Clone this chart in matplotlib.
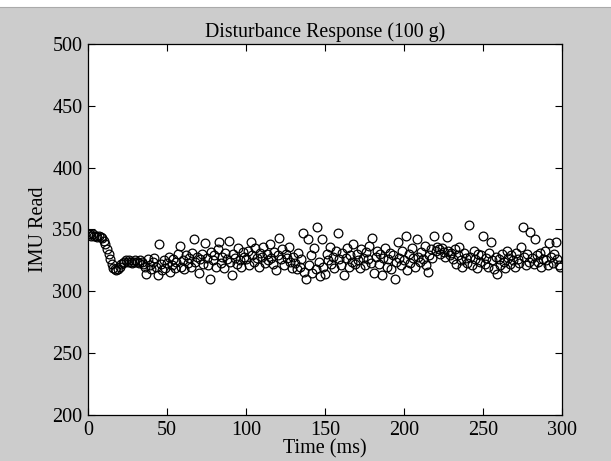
import numpy as np
import matplotlib
matplotlib.use("Agg")
import matplotlib.pyplot as plt

# IMU readings, one sample per ms
imu_read = [
    346, 346, 345, 346, 345, 345, 344, 345, 344, 343,
    341, 338, 334, 330, 326, 322, 319, 318, 317, 318,
    320, 322, 323, 324, 325, 324, 325, 324, 323, 324,
    325, 324, 323, 325, 324, 322, 320, 314, 326, 321,
    318, 324, 327, 320, 313, 338, 322, 317, 325, 319,
    323, 328, 316, 321, 326, 319, 324, 330, 337, 320,
    325, 318, 329, 323, 327, 320, 331, 342, 324, 328,
    315, 326, 330, 322, 339, 327, 321, 310, 332, 325,
    329, 320, 334, 340, 323, 328, 319, 331, 326, 341,
    324, 313, 330, 327, 322, 335, 325, 320, 332, 328,
    326, 333, 321, 340, 329, 324, 335, 327, 320, 331,
    328, 336, 323, 330, 325, 338, 327, 322, 332, 317,
    329, 343, 326, 334, 321, 330, 327, 336, 324, 319,
    328, 323, 318, 331, 320, 326, 347, 316, 310, 342,
    321, 329, 315, 335, 318, 352, 324, 312, 342, 320,
    314, 330, 325, 336, 322, 328, 319, 333, 347, 326,
    321, 331, 313, 327, 335, 320, 329, 324, 338, 322,
    330, 325, 319, 334, 327, 321, 332, 326, 337, 323,
    343, 315, 328, 333, 322, 330, 313, 327, 335, 320,
    326, 331, 318, 329, 310, 324, 340, 327, 321, 333,
    325, 345, 317, 330, 323, 335, 327, 320, 342, 328,
    324, 332, 326, 337, 321, 316, 329, 334, 327, 345,
    333, 336, 334, 330, 335, 332, 328, 344, 333, 329,
    331, 326, 334, 322, 329, 336, 325, 320, 331, 327,
    323, 354, 328, 321, 333, 326, 319, 330, 324, 329,
    345, 322, 327, 320, 331, 340, 325, 318, 328, 314,
    326, 321, 330, 324, 319, 333, 327, 322, 329, 325,
    320, 331, 326, 323, 336, 352, 328, 321, 330, 324,
    348, 327, 322, 342, 329, 324, 331, 320, 326, 333,
    325, 321, 339, 328, 323, 330, 340, 326, 321, 320,
]
time_ms = np.arange(len(imu_read))

x_ticks = [0, 50, 100, 150, 200, 250, 300]
y_ticks = [200, 250, 300, 350, 400, 450, 500]

plt.rcParams['font.family'] = ['Liberation Serif', 'DejaVu Serif']

fig = plt.figure(figsize=(6.11, 4.61), dpi=100, facecolor='#cccccc')
# white strip along the top edge, like the scanned original
fig.patches.append(plt.Rectangle((0, 1 - 7/461), 1, 7/461, transform=fig.transFigure,
                                 facecolor='white', edgecolor='none'))
fig.add_artist(plt.Line2D([0, 1], [1 - 7.5/461, 1 - 7.5/461], transform=fig.transFigure,
                          color='#aaaaaa', lw=0.8))

ax = fig.add_axes([88/611, 1 - 415/461, 474/611, 371/461])
ax.set_facecolor('white')
ax.plot(time_ms, imu_read, linestyle='none', marker='o', markersize=6.3,
        markerfacecolor='none', markeredgecolor='black', markeredgewidth=0.9)

ax.set_xlim(0, 300)
ax.set_ylim(200, 500)
ax.set_xticks(x_ticks)
ax.set_yticks(y_ticks)
ax.tick_params(direction='in', top=True, right=True, length=5, width=0.8,
               labelsize=14.5)
ax.tick_params(axis='x', pad=4)
ax.tick_params(axis='y', pad=4)
for s in ax.spines.values():
    s.set_linewidth(0.9)

ax.set_title('Disturbance Response (100 g)', fontsize=14.3, pad=5)
ax.set_xlabel('Time (ms)', fontsize=14.5, labelpad=0)
ax.set_ylabel('IMU Read', fontsize=14.5, labelpad=3)

fig.savefig('out.png', dpi=100, facecolor=fig.get_facecolor())
